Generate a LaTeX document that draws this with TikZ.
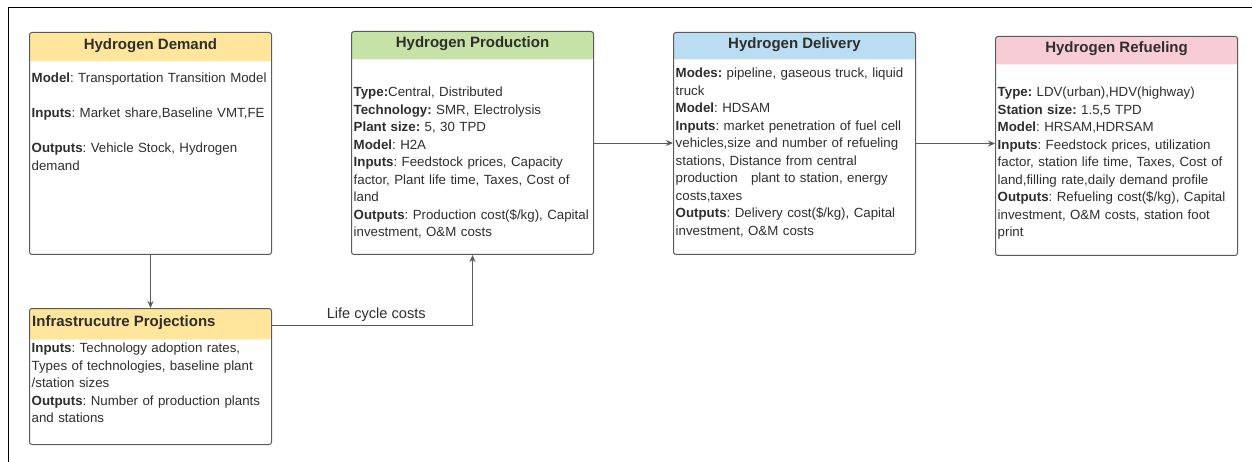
\documentclass[tikz,border=0pt]{standalone}
\usepackage{fontspec}
\setmainfont{Liberation Sans}
\usetikzlibrary{positioning,arrows.meta}
\frenchspacing

\definecolor{edgegray}{HTML}{5A5A5A}
\definecolor{inkgray}{HTML}{2E2E2E}
\definecolor{demandfill}{HTML}{FFE69C}
\definecolor{prodfill}{HTML}{C6E2A6}
\definecolor{delivfill}{HTML}{BBDDF1}
\definecolor{refuelfill}{HTML}{F8CCD5}

\tikzset{
  card/.style 2 args={draw=edgegray, line width=1pt, rounded corners=2.5pt,
    anchor=north west, inner sep=0pt, minimum width=242pt,
    path picture={\fill[#1] (path picture bounding box.north west)
      rectangle ([yshift=-#2]path picture bounding box.north east);}},
  heading/.style={font=\fontsize{15}{18}\selectfont\bfseries, text=inkgray, inner sep=0pt},
  body/.style={anchor=north west, inner sep=0pt, text width=240pt, align=left,
    font=\fontsize{13.3}{17.5}\selectfont, text=inkgray},
  flow/.style={->, line width=0.9pt, draw=edgegray}
}

\begin{document}
\begin{tikzpicture}[x=1pt, y=-1pt, >={Stealth[length=7pt,width=6pt]}]
    \useasboundingbox (0,0) rectangle (1252,462);
    \draw[line width=1pt] (8,462) -- (8,8) -- (1252,8);

    \node[card={demandfill}{29pt}, minimum height=222pt] (demand) at (29,32) {};
    \node[heading] (demand-title) at ([yshift=-14pt]demand.north) {Hydrogen Demand};
    \node[body] (demand-text) at ([shift={(2.5,41)}]demand.north west) {%
        \textbf{Model}: Transportation Transition Model\\[17.5pt]
        \textbf{Inputs}: Market share,Baseline VMT,FE\\[17.5pt]
        \textbf{Outputs}: Vehicle Stock, Hydrogen\\ demand};

    \node[card={prodfill}{28pt}, minimum height=223pt] (production) at (351,31) {};
    \node[heading] (production-title) at ([yshift=-13pt]production.north) {Hydrogen Production};
    \node[body] (production-text) at ([shift={(2.5,56)}]production.north west) {%
        \textbf{Type:}Central, Distributed\\
        \textbf{Technology:} SMR, Electrolysis\\
        \textbf{Plant size:} 5, 30 TPD\\
        \textbf{Model}: H2A\\
        \textbf{Inputs}: Feedstock prices, Capacity\\ factor, Plant life time, Taxes, Cost of\\ land\\
        \textbf{Outputs}: Production cost(\$/kg), Capital\\ investment, O\&M costs};

    \node[card={delivfill}{27pt}, minimum height=222pt] (delivery) at (673,32) {};
    \node[heading] (delivery-title) at ([yshift=-13pt]delivery.north) {Hydrogen Delivery};
    \node[body] (delivery-text) at ([shift={(2.5,36)}]delivery.north west) {%
        \textbf{Modes:} pipeline, gaseous truck, liquid\\ truck\\
        \textbf{Model}: HDSAM\\
        \textbf{Inputs}: market penetration of fuel cell\\ vehicles,size and number of refueling\\
        stations, Distance from central\\ production\ \ \ plant to station, energy\\ costs,taxes\\
        \textbf{Outputs}: Delivery cost(\$/kg), Capital\\ investment, O\&M costs};

    \node[card={refuelfill}{28pt}, minimum height=219pt] (refueling) at (995,36) {};
    \node[heading] (refueling-title) at ([yshift=-13pt]refueling.north) {Hydrogen Refueling};
    \node[body] (refueling-text) at ([shift={(2.5,51)}]refueling.north west) {%
        \textbf{Type:} LDV(urban),HDV(highway)\\
        \textbf{Station size:} 1.5,5 TPD\\
        \textbf{Model}: HRSAM,HDRSAM\\
        \textbf{Inputs}: Feedstock prices, utilization\\ factor, station life time, Taxes, Cost of\\
        land,filling rate,daily demand profile\\
        \textbf{Outputs}: Refueling cost(\$/kg), Capital\\ investment, O\&M costs, station foot\\ print};

    \node[card={demandfill}{31pt}, minimum height=136pt] (infra) at (29,308) {};
    \node[heading, anchor=west] (infra-title) at ([shift={(3,15)}]infra.north west) {Infrastrucutre Projections};
    \node[body] (infra-text) at ([shift={(2.5,35)}]infra.north west) {%
        \textbf{Inputs}: Technology adoption rates,\\ Types of technologies, baseline plant\\ /station sizes\\
        \textbf{Outputs}: Number of production plants\\ and stations};

    \draw[flow] (demand) -- (infra);
    \draw[flow] ([yshift=-17pt]infra.north east) -| node[pos=0.26, above=3.5pt, inner sep=0pt,
        font=\fontsize{14.6}{17}\selectfont, text=inkgray] (lcc) {Life cycle costs} (production);
    \draw[flow] (production.east) -- (production.east -| delivery.west);
    \draw[flow] (delivery.east) -- (delivery.east -| refueling.west);
\end{tikzpicture}
\end{document}
